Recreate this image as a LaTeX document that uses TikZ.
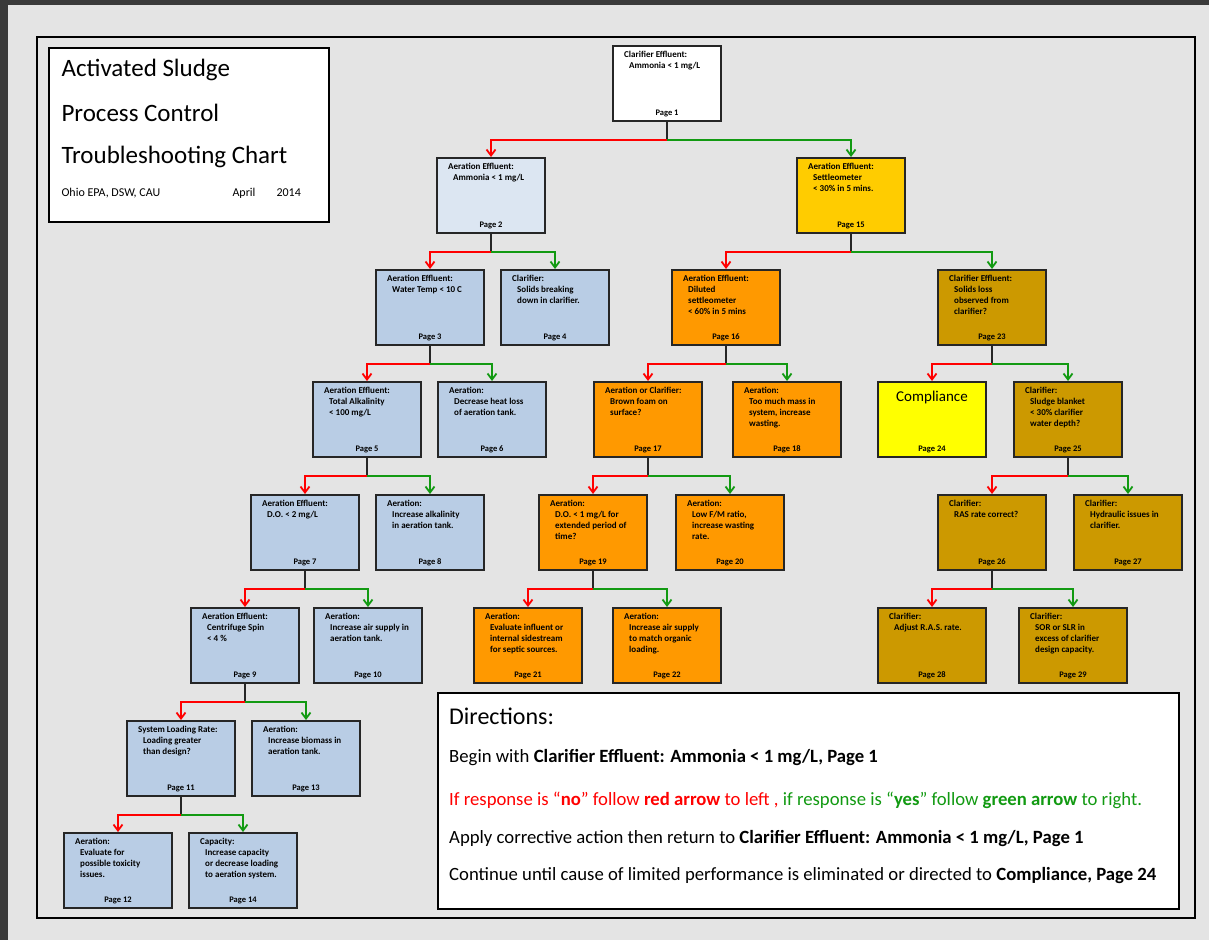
\documentclass[tikz,border=0pt]{standalone}
\usepackage{fontspec}
\setmainfont{Carlito}
\usetikzlibrary{arrows.meta}

\definecolor{pagegray}{HTML}{E4E4E4}
\definecolor{chromegray}{HTML}{3A3A3A}
\definecolor{steelblue}{HTML}{B9CDE5}
\definecolor{paleblue}{HTML}{DCE6F2}
\definecolor{settlegold}{HTML}{FFCC00}
\definecolor{foamorange}{HTML}{FF9900}
\definecolor{clarigold}{HTML}{CC9900}
\definecolor{compyellow}{HTML}{FFFF00}
\definecolor{nored}{HTML}{FF0000}
\definecolor{yesgreen}{HTML}{129A12}

\tikzset{
  cbox/.style={draw=black!85, line width=2pt, minimum width=108pt, minimum height=75pt, inner sep=0pt},
  ctext/.style={font=\fontsize{9}{11}\selectfont\bfseries, align=left, inner sep=0pt},
  cpage/.style={font=\fontsize{8.5}{10}\selectfont\bfseries, inner sep=0pt},
  stem/.style={line width=2pt, black!85},
  noarrow/.style={line width=1.8pt, nored, -{Straight Barb[length=6pt,width=9pt]}},
  yesarrow/.style={line width=1.8pt, yesgreen, -{Straight Barb[length=6pt,width=9pt]}},
  framebox/.style={draw=black, line width=1.5pt, fill=white, inner sep=0pt},
  dirline/.style={font=\fontsize{18.7}{22}\selectfont, anchor=west, inner sep=0pt},
}

% one chart box: name, x, y, fill, first line, other lines, page
\newcommand{\chartbox}[7]{%
  \node[cbox, fill=#4, anchor=north west] (#1) at (#2,#3) {};
  \node[ctext, anchor=north west] (#1-t) at ([shift={(12,6)}]#1.north west)
    {#5\\\hspace*{5pt}\begin{tabular}[t]{@{}l@{}}#6\end{tabular}};
  \node[cpage] (#1-p) at ([shift={(0,-9)}]#1.south) {Page #7};
}

% stem from parent, red arrow to "no" child, green arrow to "yes" child
\newcommand{\branch}[3]{%
  \draw[stem] (#1.south) -- ++(0,18) coordinate (#1-j);
  \draw[noarrow] (#1-j) -| (#2.north);
  \draw[yesarrow] (#1-j) -| (#3.north);
}

\begin{document}
\begin{tikzpicture}[x=1pt,y=-1pt]

% page background and frame
\useasboundingbox (0,0) rectangle (1209,940);
\fill[pagegray] (0,0) rectangle (1209,940);
\fill[chromegray] (0,0) rectangle (1209,5);
\fill[chromegray] (0,0) rectangle (8,940);
\draw[line width=2.5pt] (37,37) rectangle (1195,918);

% title block
\node[framebox, anchor=north west, minimum width=280pt, minimum height=174pt] (title) at (48,47) {};
\node[anchor=west, font=\fontsize{25}{28}\selectfont] (title-1) at (58,70) {Activated Sludge};
\node[anchor=west, font=\fontsize{25}{28}\selectfont] (title-2) at (58,113) {Process Control};
\node[anchor=west, font=\fontsize{25}{28}\selectfont] (title-3) at (58,157) {Troubleshooting Chart};
\node[anchor=west, font=\fontsize{12}{14}\selectfont] (title-4) at (58,193) {Ohio EPA, DSW, CAU};
\node[anchor=west, font=\fontsize{12}{14}\selectfont] (title-5) at (229,193) {April};
\node[anchor=west, font=\fontsize{12}{14}\selectfont] (title-6) at (273,193) {2014};

% left branch (blue)
\chartbox{pg1}{612}{45}{white}{Clarifier Effluent:}{Ammonia < 1 mg/L}{1}
\chartbox{pg2}{436}{157}{paleblue}{Aeration Effluent:}{Ammonia < 1 mg/L}{2}
\chartbox{pg3}{375}{269}{steelblue}{Aeration Effluent:}{Water Temp < 10 C}{3}
\chartbox{pg4}{500}{269}{steelblue}{Clarifier:}{Solids breaking\\down in clarifier.}{4}
\chartbox{pg5}{312}{381}{steelblue}{Aeration Effluent:}{Total Alkalinity\\< 100 mg/L}{5}
\chartbox{pg6}{437}{381}{steelblue}{Aeration:}{Decrease heat loss\\of aeration tank.}{6}
\chartbox{pg7}{250}{494}{steelblue}{Aeration Effluent:}{D.O. < 2 mg/L}{7}
\chartbox{pg8}{375}{494}{steelblue}{Aeration:}{Increase alkalinity\\in aeration tank.}{8}
\chartbox{pg9}{190}{607}{steelblue}{Aeration Effluent:}{Centrifuge Spin\\< 4 \%}{9}
\chartbox{pg10}{313}{607}{steelblue}{Aeration:}{Increase air supply in\\aeration tank.}{10}
\chartbox{pg11}{126}{720}{steelblue}{System Loading Rate:}{Loading greater\\than design?}{11}
\chartbox{pg13}{251}{720}{steelblue}{Aeration:}{Increase biomass in\\aeration tank.}{13}
\chartbox{pg12}{63}{832}{steelblue}{Aeration:}{Evaluate for\\possible toxicity\\issues.}{12}
\chartbox{pg14}{188}{832}{steelblue}{Capacity:}{Increase capacity\\or decrease loading\\to aeration system.}{14}

% right branch (gold / orange)
\chartbox{pg15}{796}{157}{settlegold}{Aeration Effluent:}{Settleometer\\< 30\% in 5 mins.}{15}
\chartbox{pg16}{671}{269}{foamorange}{Aeration Effluent:}{Diluted\\settleometer\\< 60\% in 5 mins}{16}
\chartbox{pg23}{937}{269}{clarigold}{Clarifier Effluent:}{Solids loss\\observed from\\clarifier?}{23}
\chartbox{pg17}{593}{381}{foamorange}{Aeration or Clarifier:}{Brown foam on\\surface?}{17}
\chartbox{pg18}{732}{381}{foamorange}{Aeration:}{Too much mass in\\system, increase\\wasting.}{18}
\chartbox{pg25}{1013}{381}{clarigold}{Clarifier:}{Sludge blanket\\< 30\% clarifier\\water depth?}{25}
\chartbox{pg19}{538}{494}{foamorange}{Aeration:}{D.O. < 1 mg/L for\\extended period of\\time?}{19}
\chartbox{pg20}{675}{494}{foamorange}{Aeration:}{Low F/M ratio,\\increase wasting\\rate.}{20}
\chartbox{pg26}{937}{494}{clarigold}{Clarifier:}{RAS rate correct?}{26}
\chartbox{pg27}{1073}{494}{clarigold}{Clarifier:}{Hydraulic issues in\\clarifier.}{27}
\chartbox{pg21}{473}{607}{foamorange}{Aeration:}{Evaluate influent or\\internal sidestream\\for septic sources.}{21}
\chartbox{pg22}{612}{607}{foamorange}{Aeration:}{Increase air supply\\to match organic\\loading.}{22}
\chartbox{pg28}{877}{607}{clarigold}{Clarifier:}{Adjust R.A.S. rate.}{28}
\chartbox{pg29}{1018}{607}{clarigold}{Clarifier:}{SOR or SLR in\\excess of clarifier\\design capacity.}{29}

% compliance
\node[cbox, fill=compyellow, anchor=north west] (pg24) at (877,381) {};
\node[font=\fontsize{15}{18}\selectfont, inner sep=0pt] (pg24-t) at ([shift={(0,16)}]pg24.north) {Compliance};
\node[cpage] (pg24-p) at ([shift={(0,-9)}]pg24.south) {Page 24};

% connectors
\foreach \p/\n/\y in {pg1/pg2/pg15, pg2/pg3/pg4, pg15/pg16/pg23, pg3/pg5/pg6,
    pg16/pg17/pg18, pg23/pg24/pg25, pg5/pg7/pg8, pg17/pg19/pg20, pg25/pg26/pg27,
    pg7/pg9/pg10, pg19/pg21/pg22, pg26/pg28/pg29, pg9/pg11/pg13, pg11/pg12/pg14}
  {\branch{\p}{\n}{\y}}

% directions
\node[framebox, anchor=north west, minimum width=741pt, minimum height=216pt] (dir) at (437,692) {};
\node[anchor=west, inner sep=0pt, font=\fontsize{24}{28}\selectfont] (dir-0) at (449,716) {Directions:};
\node[dirline] (dir-1) at (449,758) {Begin with \textbf{Clarifier Effluent: Ammonia < 1 mg/L, Page 1}};
\node[dirline] (dir-2) at (449,800) {\textcolor{nored}{If response is ``\textbf{no}'' follow \textbf{red arrow} to left ,} \textcolor{yesgreen}{if response is ``\textbf{yes}'' follow \textbf{green arrow} to right.}};
\node[dirline] (dir-3) at (449,838) {Apply corrective action then return to \textbf{Clarifier Effluent: Ammonia < 1 mg/L, Page 1}};
\node[dirline] (dir-4) at (449,876) {Continue until cause of limited performance is eliminated or directed to \textbf{Compliance, Page 24}};

\end{tikzpicture}
\end{document}
